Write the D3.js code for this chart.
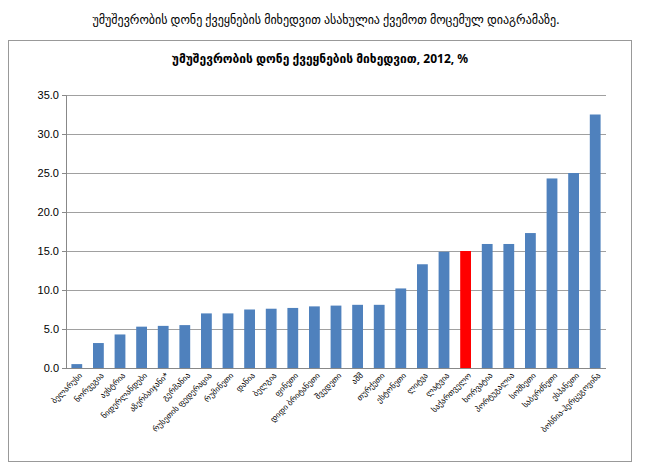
<!DOCTYPE html><html><head><meta charset="utf-8"><script src="https://cdn.jsdelivr.net/npm/d3@7"></script>
<style>body{margin:0;background:#fff;font-family:"Noto Sans","DejaVu Sans",sans-serif}</style></head><body><svg id="c" width="653" height="474"></svg>
<script>
const categories=["ბელარუსი","ნორვეგია","ავსტრია","ნიდერლანდები","აზერბაიჯანი*","გერმანია","რუსეთის ფედერაცია","რუმინეთი","დანია","ბელგია","ფინეთი","დიდი ბრიტანეთი","შვედეთი","აშშ","თურქეთი","ესტონეთი","ლიტვა","ლატვია","საქართველო","ხორვატია","პორტუგალია","სომხეთი","საბერძნეთი","ესპანეთი","ბოსნია-ჰერცეგოვინა"];
const values=[0.5,3.2,4.3,5.3,5.4,5.5,7.0,7.0,7.5,7.6,7.7,7.9,8.0,8.1,8.1,10.2,13.3,14.9,15.0,15.9,15.9,17.3,24.3,25.0,32.5];
const ticks=[0,5,10,15,20,25,30,35];
const highlight="საქართველო";
const svg=d3.select("#c");
svg.append("text").attr("x",326).attr("y",24).attr("text-anchor","middle").attr("font-size",12).text("უმუშევრობის დონე ქვეყნების მიხედვით ასახულია ქვემოთ მოცემულ დიაგრამაზე.");
svg.append("rect").attr("x",8.5).attr("y",40.5).attr("width",623).attr("height",421).attr("fill","none").attr("stroke","#999");
svg.append("text").attr("x",320).attr("y",63).attr("text-anchor","middle").attr("font-size",12).attr("font-weight","bold").text("უმუშევრობის დონე  ქვეყნების მიხედვით, 2012, %");
const x=d3.scaleBand().domain(categories).range([66,606]).paddingInner(0.5).paddingOuter(0.25);
const y=d3.scaleLinear().domain([0,35]).range([368,95]);
const g=svg.append("g");
g.selectAll("line.grid").data(ticks).join("line").attr("x1",66).attr("x2",606).attr("y1",d=>y(d)+.5).attr("y2",d=>y(d)+.5).attr("stroke","#888").attr("stroke-width",0.8);
g.selectAll("rect.b").data(categories).join("rect").attr("x",d=>x(d)).attr("width",x.bandwidth()).attr("y",(d,i)=>y(values[i])).attr("height",(d,i)=>y(0)-y(values[i])).attr("fill",d=>d===highlight?"#ff0000":"#4f81bd");
const ax=svg.append("g").attr("transform","translate(66,0)").call(d3.axisLeft(y).tickValues(ticks).tickFormat(d3.format(".1f")).tickSize(4));
ax.select(".domain").attr("stroke","#888");ax.selectAll("line").attr("stroke","#888");
ax.selectAll("text").attr("font-size",11).attr("fill","#000").attr("font-family","Liberation Sans, Arial");
svg.append("line").attr("x1",66).attr("x2",606).attr("y1",368.5).attr("y2",368.5).attr("stroke","#888");
svg.selectAll("text.xl").data(categories).join("text").attr("class","xl").attr("font-size",8).attr("text-anchor","end")
 .attr("transform",d=>`translate(${x(d)+x.bandwidth()/2+6},${376}) rotate(-45)`).text(d=>d);
</script></body></html>
